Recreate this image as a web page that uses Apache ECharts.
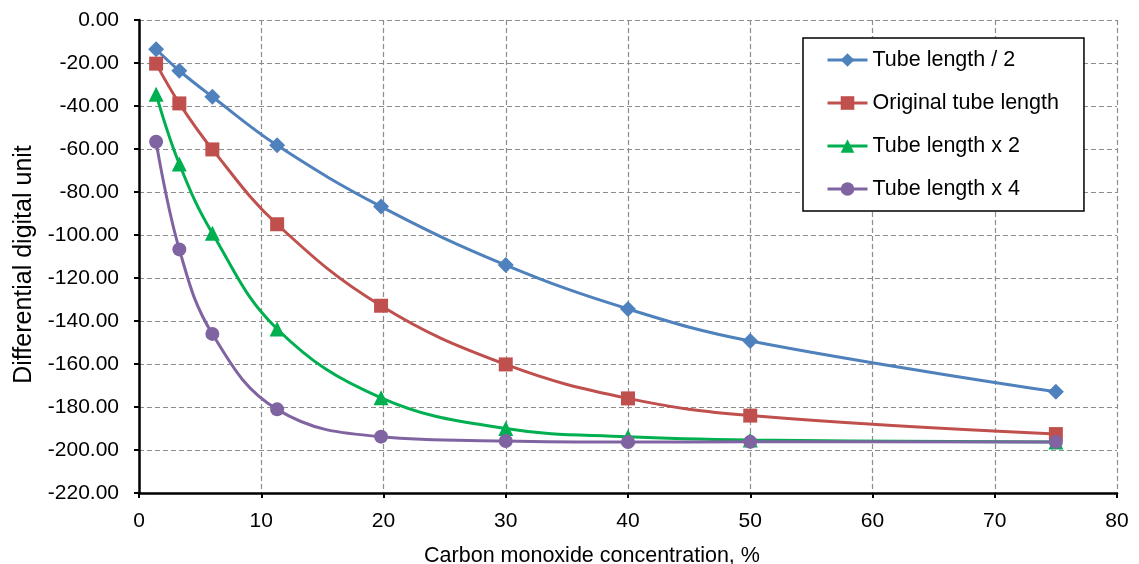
<!DOCTYPE html>
<html>
<head>
<meta charset="utf-8">
<script src="https://cdn.jsdelivr.net/npm/echarts@6/dist/echarts.min.js"></script>
<style>
  html, body { margin: 0; padding: 0; background: #fff; }
  #chart { width: 1139px; height: 564px; }
</style>
</head>
<body>
<div id="chart"></div>
<script>
// CO concentration, %
var conc = [1.4, 3.3, 6.0, 11.3, 19.8, 30, 40, 50, 75];
// differential digital unit per tube length
var halfLen = [-13.6, -23.6, -35.7, -58.3, -86.8, -114.0, -134.4, -149.3, -172.9];
var origLen = [-20.3, -38.8, -60.2, -95.0, -132.9, -160.2, -176.0, -184.0, -192.6];
var doubleLen = [-34.5, -67.0, -99.2, -143.7, -175.7, -190.0, -193.8, -195.3, -196.3];
var quadLen = [-56.6, -106.7, -146.0, -181.1, -193.8, -195.8, -196.3, -196.2, -196.3];

var seriesNames = ['Tube length / 2', 'Original tube length', 'Tube length x 2', 'Tube length x 4'];
var seriesValues = [halfLen, origLen, doubleLen, quadLen];
var colors = ['#4F81BD', '#C0504D', '#00B050', '#8064A2'];
var symbols = ['diamond', 'rect', 'triangle', 'circle'];
var symbolSizes = [16, 14, 15, 14];

var font = 'Arial, "Liberation Sans", sans-serif';

var chart = echarts.init(document.getElementById('chart'));

function pairs(ys) {
    return ys.map(function (y, i) { return [conc[i], y]; });
}

var series = seriesNames.map(function (name, k) {
    return {
        name: name,
        type: 'line',
        smooth: 0.4,
        data: pairs(seriesValues[k]),
        symbol: symbols[k],
        symbolSize: symbolSizes[k],
        lineStyle: { color: colors[k], width: 3 },
        itemStyle: { color: colors[k] },
        z: 2 + k
    };
});

var option = {
    animation: false,
    color: colors,
    grid: { left: 139, right: 22, top: 20, bottom: 71, outerBoundsMode: 'none', containLabel: false },
    legend: {
        orient: 'vertical',
        left: 803,
        top: 38,
        padding: [11, 25, 11, 23],
        itemWidth: 40,
        itemHeight: 17,
        itemGap: 21,
        backgroundColor: '#fff',
        borderColor: '#000',
        borderWidth: 1.5,
        lineStyle: { width: 3 },
        textStyle: { fontFamily: font, fontSize: 21.5, color: '#000', lineHeight: 20 },
        data: seriesNames
    },
    xAxis: {
        type: 'value',
        min: 0,
        max: 80,
        interval: 10,
        name: 'Carbon monoxide concentration, %',
        nameLocation: 'middle',
        nameGap: 52,
        nameTextStyle: { fontFamily: font, fontSize: 21.5, color: '#000', padding: [0, 72, 0, 0] },
        axisLine: { onZero: false, lineStyle: { color: '#000', width: 2.5 } },
        axisTick: { show: true, length: 5, lineStyle: { color: '#000', width: 2 } },
        axisLabel: { fontFamily: font, fontSize: 21, color: '#000', margin: 18 },
        splitLine: { show: true, lineStyle: { color: '#8c8c8c', type: [5, 3], width: 1.2 } }
    },
    yAxis: {
        type: 'value',
        min: -220,
        max: 0,
        interval: 20,
        name: 'Differential digital unit',
        nameLocation: 'middle',
        nameGap: 102,
        nameTextStyle: { fontFamily: font, fontSize: 25, color: '#000', padding: [0, 16, 0, 0] },
        axisLine: { show: true, onZero: false, lineStyle: { color: '#000', width: 2.5 } },
        axisTick: { show: true, length: 5, lineStyle: { color: '#000', width: 2 } },
        axisLabel: {
            fontFamily: font, fontSize: 21, color: '#000', margin: 20,
            formatter: function (v) { return v.toFixed(2); }
        },
        splitLine: { show: true, lineStyle: { color: '#8c8c8c', type: [5, 3], width: 1.2 } }
    },
    series: series
};

chart.setOption(option);
</script>
</body>
</html>
